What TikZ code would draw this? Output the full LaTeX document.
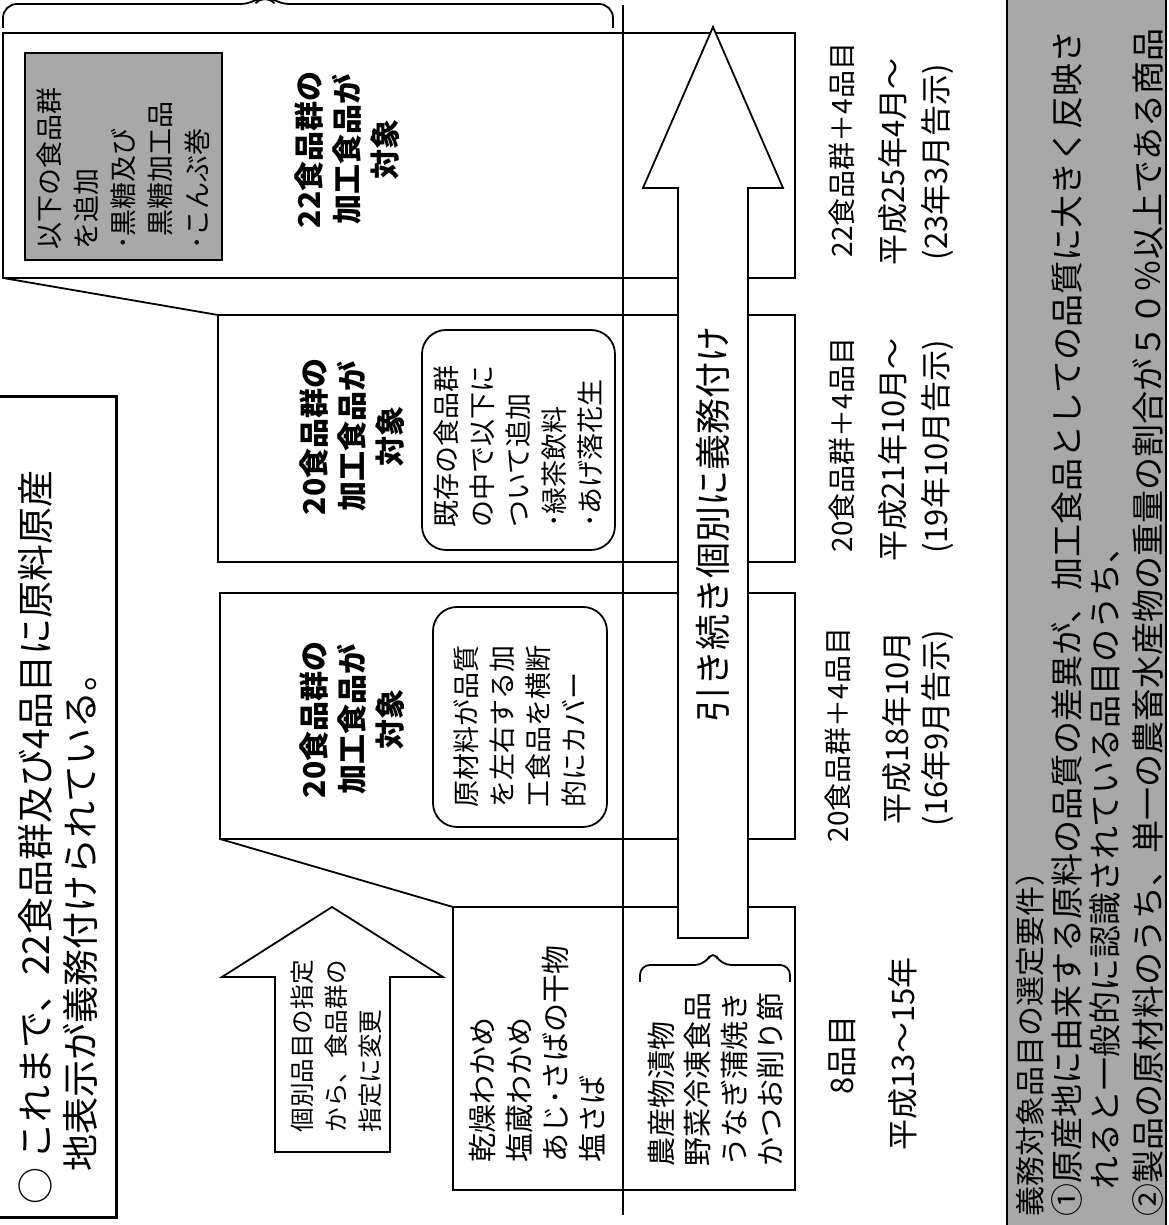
\documentclass[tikz,border=0pt]{standalone}
\usepackage{fontspec}
\setmainfont{Noto Sans CJK JP}
\usetikzlibrary{positioning}
\definecolor{dotgray}{gray}{0.66}
\newcommand{\jfs}[2]{\fontsize{#1}{#2}\selectfont}

\begin{document}
\begin{tikzpicture}[x=0.5pt, y=0.5pt, rotate=90, transform shape,
		bar/.style={draw, line width=0.9pt, inner sep=0pt, outer sep=0pt},
		rbox/.style={draw, line width=0.9pt, rounded corners=12pt, align=left, font=\jfs{13.5}{18}},
		gbox/.style={draw, line width=1.2pt, fill=dotgray, align=left, font=\jfs{13.5}{18.5}},
		head/.style={align=center, font=\bfseries\jfs{15}{19}},
		item/.style={anchor=west, align=left, inner sep=0pt, font=\jfs{14.5}{18.3}},
		cnt/.style={font=\jfs{14}{16}},
		yr/.style={font=\jfs{15.5}{18}},
		req/.style={anchor=west, inner sep=0pt, font=\jfs{16.5}{20}}]
				\useasboundingbox (0,0) rectangle (1225,1168);
				% bottom requirement box
				\draw[line width=1.2pt, fill=dotgray] (-10,2) rectangle (1240,161);
				% title
				\node[draw, line width=1.5pt, inner sep=0pt, minimum width=410.5pt, minimum height=60.5pt] (titlebox) at (417.5,1111.5) {};
				\node[anchor=west, align=left, inner sep=0pt, font=\jfs{18.5}{22.5}] (title) at (20,1110) {○ これまで、22食品群及び4品目に原料原産\\\hspace*{16.5pt}地表示が義務付けられている。};
				% bars
				\node[bar, minimum width=141.5pt, minimum height=171pt] (bar1) at (176.5,544) {};
				\node[bar, minimum width=123pt, minimum height=287.5pt] (bar2) at (509,660.5) {};
				\node[bar, minimum width=123.5pt, minimum height=288.5pt] (bar3) at (786.5,661.5) {};
				\node[bar, minimum width=122.5pt, minimum height=396pt] (bar4) at (1069.5,769) {};
				\draw[line width=0.9pt] (bar2.north west) -- (bar1.north east);
				\draw[line width=0.9pt] (bar4.north west) -- (bar3.north east);
				\coordinate (base0) at (10,545);
				\coordinate (base1) at (1220,545);
				\draw[line width=1pt] (base0) -- (base1);
				% arrows
				\draw[line width=0.9pt, fill=white] (287,420) -- (1037,420) -- (1037,385) -- (1198,455) -- (1037,525) -- (1037,490) -- (287,490) -- cycle;
				\node[font=\jfs{18}{20}] (keep) at (700,455) {引き続き個別に義務付け};
				\draw[line width=0.9pt, fill=white] (73,778) -- (248,778) -- (248,725) -- (318,836) -- (248,946) -- (248,893) -- (73,893) -- cycle;
				\node[anchor=west, align=left, inner sep=0pt, font=\jfs{12.3}{17}] (change) at (92,832) {個別品目の指定\\から、食品群の\\指定に変更};
				% braces
				\draw[line width=0.9pt, rounded corners=7pt] (1197,555) -- (1221,555) -- (1221,893) -- (1232,903) -- (1221,913) -- (1221,1165) -- (1197,1165);
				\draw[line width=0.9pt, rounded corners=5pt] (243,378) -- (260,378) -- (260,447) -- (275,455) -- (260,463) -- (260,528) -- (243,528);
				% bar contents
				\node[item] (list1) at (62,631) {乾燥わかめ\\塩蔵わかめ\\あじ･さばの干物\\塩さば};
				\node[item] (list2) at (58,452) {農産物漬物\\野菜冷凍食品\\うなぎ蒲焼き\\かつお削り節};
				\node[head] (head2) at (505,816) {20食品群の\\加工食品が\\対象};
				\node[head] (head3) at (788,816) {20食品群の\\加工食品が\\対象};
				\node[head] (head4) at (1075,821) {22食品群の\\加工食品が\\対象};
				\node[rbox, minimum width=110pt, minimum height=87pt, text width=91pt] (note2) at (508,648) {原材料が品質\\を左右する加\\工食品を横断\\的にカバー};
				\node[rbox, minimum width=110pt, minimum height=96.5pt, text width=88pt] (note3) at (785,649.5) {既存の食品群\\の中で以下に\\ついて追加\\･緑茶飲料\\･あげ落花生};
				\node[gbox, rounded corners=0pt, minimum width=103.5pt, minimum height=98.5pt, text width=93.5pt] (note4) at (1068.5,1044.5) {以下の食品群\\を追加\\･黒糖及び\\\phantom{･}黒糖加工品\\･こんぶ巻};
				% labels
				\node[yr] (cnt1) at (170,326) {8品目};
				\node[yr] (yr1) at (171,265) {平成13～15年};
				\node[cnt] (cnt2) at (490,330) {20食品群＋4品目};
				\node[yr] (yr2) at (497,271) {平成18年10月};
				\node[yr] (ann2) at (497,231) {(16年9月告示)};
				\node[cnt] (cnt3) at (780,326) {20食品群＋4品目};
				\node[yr] (yr3) at (775,275) {平成21年10月～};
				\node[yr] (ann3) at (778,231) {(19年10月告示)};
				\node[cnt] (cnt4) at (1075,326) {22食品群＋4品目};
				\node[yr] (yr4) at (1063,275) {平成25年4月～};
				\node[yr] (ann4) at (1063,231) {(23年3月告示)};
				% requirements
				\node[req, font=\jfs{15}{18}] (req0) at (8,138) {義務対象品目の選定要件）};
				\node[req] (req1) at (8,101) {①原産地に由来する原料の品質の差異が、加工食品としての品質に大きく反映さ};
				\node[req] (req2) at (35,63) {れると一般的に認識されている品目のうち、};
				\node[req] (req3) at (8,20) {②製品の原材料のうち、単一の農畜水産物の重量の割合が５０％以上である商品};
			\end{tikzpicture}
\end{document}
